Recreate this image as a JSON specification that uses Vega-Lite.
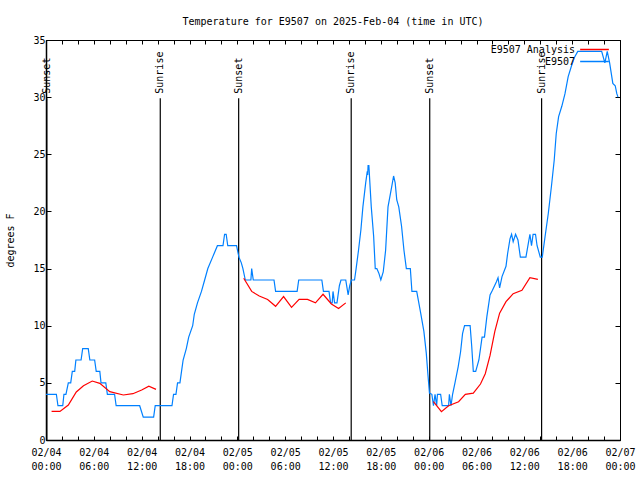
{
  "$schema": "https://vega.github.io/schema/vega-lite/v6.json",
  "width": 574,
  "height": 400,
  "autosize": {"type": "none"},
  "padding": {"left": 46, "top": 40, "right": 20, "bottom": 40},
  "background": "white",
  "title": {"text": "Temperature for E9507 on 2025-Feb-04 (time in UTC)", "font": "DejaVu Sans Mono", "fontSize": 10, "fontWeight": "normal", "anchor": "middle", "offset": 8, "color": "black"},
  "config": {
    "view": {"stroke": "black", "strokeWidth": 1},
    "font": "DejaVu Sans Mono",
    "axis": {"grid": false, "domainColor": "black", "tickColor": "black", "labelColor": "black", "titleColor": "black", "labelFont": "DejaVu Sans Mono", "titleFont": "DejaVu Sans Mono", "labelFontSize": 10, "titleFontSize": 10, "titleFontWeight": "normal"},
    "legend": {"padding": 0}
  },
  "datasets": {
    "sun": [
      {"event": "Sunset", "t": "2025-02-04T00:06:00Z"},
      {"event": "Sunrise", "t": "2025-02-04T14:20:00Z"},
      {"event": "Sunset", "t": "2025-02-05T00:10:00Z"},
      {"event": "Sunrise", "t": "2025-02-05T14:17:00Z"},
      {"event": "Sunset", "t": "2025-02-06T00:08:00Z"},
      {"event": "Sunrise", "t": "2025-02-06T14:10:00Z"}
    ],
    "temps": [
      {"s": "E9507", "g": "b", "t": "2025-02-04T00:00:00Z", "v": 4},
      {"s": "E9507", "g": "b", "t": "2025-02-04T01:18:00Z", "v": 4},
      {"s": "E9507", "g": "b", "t": "2025-02-04T01:30:00Z", "v": 3},
      {"s": "E9507", "g": "b", "t": "2025-02-04T02:06:00Z", "v": 3},
      {"s": "E9507", "g": "b", "t": "2025-02-04T02:15:00Z", "v": 4},
      {"s": "E9507", "g": "b", "t": "2025-02-04T02:30:00Z", "v": 4},
      {"s": "E9507", "g": "b", "t": "2025-02-04T02:48:00Z", "v": 5},
      {"s": "E9507", "g": "b", "t": "2025-02-04T03:06:00Z", "v": 5},
      {"s": "E9507", "g": "b", "t": "2025-02-04T03:18:00Z", "v": 6},
      {"s": "E9507", "g": "b", "t": "2025-02-04T03:36:00Z", "v": 6},
      {"s": "E9507", "g": "b", "t": "2025-02-04T03:45:00Z", "v": 7},
      {"s": "E9507", "g": "b", "t": "2025-02-04T04:24:00Z", "v": 7},
      {"s": "E9507", "g": "b", "t": "2025-02-04T04:36:00Z", "v": 8},
      {"s": "E9507", "g": "b", "t": "2025-02-04T05:18:00Z", "v": 8},
      {"s": "E9507", "g": "b", "t": "2025-02-04T05:30:00Z", "v": 7},
      {"s": "E9507", "g": "b", "t": "2025-02-04T06:06:00Z", "v": 7},
      {"s": "E9507", "g": "b", "t": "2025-02-04T06:18:00Z", "v": 6},
      {"s": "E9507", "g": "b", "t": "2025-02-04T06:45:00Z", "v": 6},
      {"s": "E9507", "g": "b", "t": "2025-02-04T06:54:00Z", "v": 5},
      {"s": "E9507", "g": "b", "t": "2025-02-04T07:30:00Z", "v": 5},
      {"s": "E9507", "g": "b", "t": "2025-02-04T07:42:00Z", "v": 4},
      {"s": "E9507", "g": "b", "t": "2025-02-04T08:36:00Z", "v": 4},
      {"s": "E9507", "g": "b", "t": "2025-02-04T08:48:00Z", "v": 3},
      {"s": "E9507", "g": "b", "t": "2025-02-04T11:45:00Z", "v": 3},
      {"s": "E9507", "g": "b", "t": "2025-02-04T12:12:00Z", "v": 2},
      {"s": "E9507", "g": "b", "t": "2025-02-04T13:30:00Z", "v": 2},
      {"s": "E9507", "g": "b", "t": "2025-02-04T13:42:00Z", "v": 3},
      {"s": "E9507", "g": "b", "t": "2025-02-04T15:48:00Z", "v": 3},
      {"s": "E9507", "g": "b", "t": "2025-02-04T16:00:00Z", "v": 4},
      {"s": "E9507", "g": "b", "t": "2025-02-04T16:18:00Z", "v": 4},
      {"s": "E9507", "g": "b", "t": "2025-02-04T16:30:00Z", "v": 5},
      {"s": "E9507", "g": "b", "t": "2025-02-04T16:48:00Z", "v": 5},
      {"s": "E9507", "g": "b", "t": "2025-02-04T17:00:00Z", "v": 6},
      {"s": "E9507", "g": "b", "t": "2025-02-04T17:12:00Z", "v": 7},
      {"s": "E9507", "g": "b", "t": "2025-02-04T17:36:00Z", "v": 8},
      {"s": "E9507", "g": "b", "t": "2025-02-04T17:54:00Z", "v": 9},
      {"s": "E9507", "g": "b", "t": "2025-02-04T18:24:00Z", "v": 10},
      {"s": "E9507", "g": "b", "t": "2025-02-04T18:36:00Z", "v": 11},
      {"s": "E9507", "g": "b", "t": "2025-02-04T19:00:00Z", "v": 12},
      {"s": "E9507", "g": "b", "t": "2025-02-04T19:30:00Z", "v": 13},
      {"s": "E9507", "g": "b", "t": "2025-02-04T19:54:00Z", "v": 14},
      {"s": "E9507", "g": "b", "t": "2025-02-04T20:18:00Z", "v": 15},
      {"s": "E9507", "g": "b", "t": "2025-02-04T20:54:00Z", "v": 16},
      {"s": "E9507", "g": "b", "t": "2025-02-04T21:30:00Z", "v": 17},
      {"s": "E9507", "g": "b", "t": "2025-02-04T22:12:00Z", "v": 17},
      {"s": "E9507", "g": "b", "t": "2025-02-04T22:24:00Z", "v": 18},
      {"s": "E9507", "g": "b", "t": "2025-02-04T22:36:00Z", "v": 18},
      {"s": "E9507", "g": "b", "t": "2025-02-04T22:48:00Z", "v": 17},
      {"s": "E9507", "g": "b", "t": "2025-02-04T23:54:00Z", "v": 17},
      {"s": "E9507", "g": "b", "t": "2025-02-05T00:12:00Z", "v": 16},
      {"s": "E9507", "g": "b", "t": "2025-02-05T00:30:00Z", "v": 15.5},
      {"s": "E9507", "g": "b", "t": "2025-02-05T00:42:00Z", "v": 15},
      {"s": "E9507", "g": "b", "t": "2025-02-05T01:00:00Z", "v": 14},
      {"s": "E9507", "g": "b", "t": "2025-02-05T01:42:00Z", "v": 14},
      {"s": "E9507", "g": "b", "t": "2025-02-05T01:48:00Z", "v": 15},
      {"s": "E9507", "g": "b", "t": "2025-02-05T02:00:00Z", "v": 14},
      {"s": "E9507", "g": "b", "t": "2025-02-05T04:36:00Z", "v": 14},
      {"s": "E9507", "g": "b", "t": "2025-02-05T04:48:00Z", "v": 13},
      {"s": "E9507", "g": "b", "t": "2025-02-05T07:30:00Z", "v": 13},
      {"s": "E9507", "g": "b", "t": "2025-02-05T07:42:00Z", "v": 14},
      {"s": "E9507", "g": "b", "t": "2025-02-05T10:36:00Z", "v": 14},
      {"s": "E9507", "g": "b", "t": "2025-02-05T10:48:00Z", "v": 13},
      {"s": "E9507", "g": "b", "t": "2025-02-05T11:30:00Z", "v": 13},
      {"s": "E9507", "g": "b", "t": "2025-02-05T11:42:00Z", "v": 12},
      {"s": "E9507", "g": "b", "t": "2025-02-05T11:54:00Z", "v": 12},
      {"s": "E9507", "g": "b", "t": "2025-02-05T12:00:00Z", "v": 13},
      {"s": "E9507", "g": "b", "t": "2025-02-05T12:12:00Z", "v": 12},
      {"s": "E9507", "g": "b", "t": "2025-02-05T12:30:00Z", "v": 12},
      {"s": "E9507", "g": "b", "t": "2025-02-05T12:48:00Z", "v": 13.5},
      {"s": "E9507", "g": "b", "t": "2025-02-05T13:00:00Z", "v": 14},
      {"s": "E9507", "g": "b", "t": "2025-02-05T13:36:00Z", "v": 14},
      {"s": "E9507", "g": "b", "t": "2025-02-05T13:54:00Z", "v": 12.7},
      {"s": "E9507", "g": "b", "t": "2025-02-05T14:06:00Z", "v": 13.5},
      {"s": "E9507", "g": "b", "t": "2025-02-05T14:18:00Z", "v": 14},
      {"s": "E9507", "g": "b", "t": "2025-02-05T14:42:00Z", "v": 14},
      {"s": "E9507", "g": "b", "t": "2025-02-05T14:54:00Z", "v": 15},
      {"s": "E9507", "g": "b", "t": "2025-02-05T15:12:00Z", "v": 16.6},
      {"s": "E9507", "g": "b", "t": "2025-02-05T15:30:00Z", "v": 18.4},
      {"s": "E9507", "g": "b", "t": "2025-02-05T15:45:00Z", "v": 20.4},
      {"s": "E9507", "g": "b", "t": "2025-02-05T16:06:00Z", "v": 22.5},
      {"s": "E9507", "g": "b", "t": "2025-02-05T16:18:00Z", "v": 23.5},
      {"s": "E9507", "g": "b", "t": "2025-02-05T16:21:00Z", "v": 23.2},
      {"s": "E9507", "g": "b", "t": "2025-02-05T16:24:00Z", "v": 24},
      {"s": "E9507", "g": "b", "t": "2025-02-05T16:30:00Z", "v": 24},
      {"s": "E9507", "g": "b", "t": "2025-02-05T16:48:00Z", "v": 20.4},
      {"s": "E9507", "g": "b", "t": "2025-02-05T17:06:00Z", "v": 17.8},
      {"s": "E9507", "g": "b", "t": "2025-02-05T17:18:00Z", "v": 15},
      {"s": "E9507", "g": "b", "t": "2025-02-05T17:30:00Z", "v": 15},
      {"s": "E9507", "g": "b", "t": "2025-02-05T17:45:00Z", "v": 14.6},
      {"s": "E9507", "g": "b", "t": "2025-02-05T18:00:00Z", "v": 14},
      {"s": "E9507", "g": "b", "t": "2025-02-05T18:18:00Z", "v": 14.7},
      {"s": "E9507", "g": "b", "t": "2025-02-05T18:36:00Z", "v": 16.6},
      {"s": "E9507", "g": "b", "t": "2025-02-05T18:54:00Z", "v": 20.4},
      {"s": "E9507", "g": "b", "t": "2025-02-05T19:24:00Z", "v": 22.3},
      {"s": "E9507", "g": "b", "t": "2025-02-05T19:36:00Z", "v": 23.1},
      {"s": "E9507", "g": "b", "t": "2025-02-05T19:48:00Z", "v": 22.5},
      {"s": "E9507", "g": "b", "t": "2025-02-05T20:00:00Z", "v": 21},
      {"s": "E9507", "g": "b", "t": "2025-02-05T20:15:00Z", "v": 20.4},
      {"s": "E9507", "g": "b", "t": "2025-02-05T20:36:00Z", "v": 18.7},
      {"s": "E9507", "g": "b", "t": "2025-02-05T20:54:00Z", "v": 16.6},
      {"s": "E9507", "g": "b", "t": "2025-02-05T21:12:00Z", "v": 15},
      {"s": "E9507", "g": "b", "t": "2025-02-05T21:42:00Z", "v": 15},
      {"s": "E9507", "g": "b", "t": "2025-02-05T21:54:00Z", "v": 13},
      {"s": "E9507", "g": "b", "t": "2025-02-05T22:30:00Z", "v": 13},
      {"s": "E9507", "g": "b", "t": "2025-02-05T23:00:00Z", "v": 11.1},
      {"s": "E9507", "g": "b", "t": "2025-02-05T23:24:00Z", "v": 9.5},
      {"s": "E9507", "g": "b", "t": "2025-02-05T23:42:00Z", "v": 7.6},
      {"s": "E9507", "g": "b", "t": "2025-02-05T23:54:00Z", "v": 5.8},
      {"s": "E9507", "g": "b", "t": "2025-02-06T00:06:00Z", "v": 4.1},
      {"s": "E9507", "g": "b", "t": "2025-02-06T00:24:00Z", "v": 4},
      {"s": "E9507", "g": "b", "t": "2025-02-06T00:36:00Z", "v": 3},
      {"s": "E9507", "g": "b", "t": "2025-02-06T00:48:00Z", "v": 4},
      {"s": "E9507", "g": "b", "t": "2025-02-06T01:00:00Z", "v": 3},
      {"s": "E9507", "g": "b", "t": "2025-02-06T01:06:00Z", "v": 4},
      {"s": "E9507", "g": "b", "t": "2025-02-06T01:30:00Z", "v": 4},
      {"s": "E9507", "g": "b", "t": "2025-02-06T01:42:00Z", "v": 3},
      {"s": "E9507", "g": "b", "t": "2025-02-06T02:30:00Z", "v": 3},
      {"s": "E9507", "g": "b", "t": "2025-02-06T02:36:00Z", "v": 4},
      {"s": "E9507", "g": "b", "t": "2025-02-06T02:48:00Z", "v": 3},
      {"s": "E9507", "g": "b", "t": "2025-02-06T03:00:00Z", "v": 4},
      {"s": "E9507", "g": "b", "t": "2025-02-06T03:18:00Z", "v": 5},
      {"s": "E9507", "g": "b", "t": "2025-02-06T03:42:00Z", "v": 6.4},
      {"s": "E9507", "g": "b", "t": "2025-02-06T04:00:00Z", "v": 7.7},
      {"s": "E9507", "g": "b", "t": "2025-02-06T04:15:00Z", "v": 9.3},
      {"s": "E9507", "g": "b", "t": "2025-02-06T04:30:00Z", "v": 10},
      {"s": "E9507", "g": "b", "t": "2025-02-06T05:12:00Z", "v": 10},
      {"s": "E9507", "g": "b", "t": "2025-02-06T05:24:00Z", "v": 8.2},
      {"s": "E9507", "g": "b", "t": "2025-02-06T05:36:00Z", "v": 6},
      {"s": "E9507", "g": "b", "t": "2025-02-06T05:54:00Z", "v": 6},
      {"s": "E9507", "g": "b", "t": "2025-02-06T06:18:00Z", "v": 7},
      {"s": "E9507", "g": "b", "t": "2025-02-06T06:42:00Z", "v": 9},
      {"s": "E9507", "g": "b", "t": "2025-02-06T07:00:00Z", "v": 9},
      {"s": "E9507", "g": "b", "t": "2025-02-06T07:18:00Z", "v": 10.8},
      {"s": "E9507", "g": "b", "t": "2025-02-06T07:42:00Z", "v": 12.7},
      {"s": "E9507", "g": "b", "t": "2025-02-06T08:00:00Z", "v": 13.1},
      {"s": "E9507", "g": "b", "t": "2025-02-06T08:30:00Z", "v": 13.85},
      {"s": "E9507", "g": "b", "t": "2025-02-06T08:42:00Z", "v": 14.2},
      {"s": "E9507", "g": "b", "t": "2025-02-06T08:54:00Z", "v": 13.3},
      {"s": "E9507", "g": "b", "t": "2025-02-06T09:12:00Z", "v": 14.3},
      {"s": "E9507", "g": "b", "t": "2025-02-06T09:42:00Z", "v": 15.2},
      {"s": "E9507", "g": "b", "t": "2025-02-06T09:54:00Z", "v": 16.3},
      {"s": "E9507", "g": "b", "t": "2025-02-06T10:12:00Z", "v": 17.6},
      {"s": "E9507", "g": "b", "t": "2025-02-06T10:24:00Z", "v": 18},
      {"s": "E9507", "g": "b", "t": "2025-02-06T10:36:00Z", "v": 17.35},
      {"s": "E9507", "g": "b", "t": "2025-02-06T10:54:00Z", "v": 18},
      {"s": "E9507", "g": "b", "t": "2025-02-06T11:12:00Z", "v": 17.5},
      {"s": "E9507", "g": "b", "t": "2025-02-06T11:30:00Z", "v": 16},
      {"s": "E9507", "g": "b", "t": "2025-02-06T12:12:00Z", "v": 16},
      {"s": "E9507", "g": "b", "t": "2025-02-06T12:30:00Z", "v": 17.2},
      {"s": "E9507", "g": "b", "t": "2025-02-06T12:42:00Z", "v": 18},
      {"s": "E9507", "g": "b", "t": "2025-02-06T12:54:00Z", "v": 17},
      {"s": "E9507", "g": "b", "t": "2025-02-06T13:06:00Z", "v": 18},
      {"s": "E9507", "g": "b", "t": "2025-02-06T13:24:00Z", "v": 18},
      {"s": "E9507", "g": "b", "t": "2025-02-06T13:36:00Z", "v": 17},
      {"s": "E9507", "g": "b", "t": "2025-02-06T14:00:00Z", "v": 16},
      {"s": "E9507", "g": "b", "t": "2025-02-06T14:15:00Z", "v": 16},
      {"s": "E9507", "g": "b", "t": "2025-02-06T14:36:00Z", "v": 17.8},
      {"s": "E9507", "g": "b", "t": "2025-02-06T15:00:00Z", "v": 19.8},
      {"s": "E9507", "g": "b", "t": "2025-02-06T15:24:00Z", "v": 22.2},
      {"s": "E9507", "g": "b", "t": "2025-02-06T15:45:00Z", "v": 24.5},
      {"s": "E9507", "g": "b", "t": "2025-02-06T16:00:00Z", "v": 26.8},
      {"s": "E9507", "g": "b", "t": "2025-02-06T16:18:00Z", "v": 28.3},
      {"s": "E9507", "g": "b", "t": "2025-02-06T16:42:00Z", "v": 29.2},
      {"s": "E9507", "g": "b", "t": "2025-02-06T17:06:00Z", "v": 30.3},
      {"s": "E9507", "g": "b", "t": "2025-02-06T17:30:00Z", "v": 31.8},
      {"s": "E9507", "g": "b", "t": "2025-02-06T17:54:00Z", "v": 32.7},
      {"s": "E9507", "g": "b", "t": "2025-02-06T18:18:00Z", "v": 33.5},
      {"s": "E9507", "g": "b", "t": "2025-02-06T18:42:00Z", "v": 34},
      {"s": "E9507", "g": "b", "t": "2025-02-06T21:42:00Z", "v": 34},
      {"s": "E9507", "g": "b", "t": "2025-02-06T22:06:00Z", "v": 33},
      {"s": "E9507", "g": "b", "t": "2025-02-06T22:24:00Z", "v": 34},
      {"s": "E9507", "g": "b", "t": "2025-02-06T22:42:00Z", "v": 33},
      {"s": "E9507", "g": "b", "t": "2025-02-06T22:54:00Z", "v": 32.1},
      {"s": "E9507", "g": "b", "t": "2025-02-06T23:06:00Z", "v": 31.2},
      {"s": "E9507", "g": "b", "t": "2025-02-06T23:24:00Z", "v": 31},
      {"s": "E9507", "g": "b", "t": "2025-02-06T23:36:00Z", "v": 30.3},
      {"s": "E9507", "g": "b", "t": "2025-02-06T23:45:00Z", "v": 30},
      {"s": "E9507 Analysis", "g": "r1", "t": "2025-02-04T00:42:00Z", "v": 2.5},
      {"s": "E9507 Analysis", "g": "r1", "t": "2025-02-04T01:45:00Z", "v": 2.5},
      {"s": "E9507 Analysis", "g": "r1", "t": "2025-02-04T02:48:00Z", "v": 3.06},
      {"s": "E9507 Analysis", "g": "r1", "t": "2025-02-04T03:48:00Z", "v": 4.2},
      {"s": "E9507 Analysis", "g": "r1", "t": "2025-02-04T04:42:00Z", "v": 4.75},
      {"s": "E9507 Analysis", "g": "r1", "t": "2025-02-04T05:48:00Z", "v": 5.16},
      {"s": "E9507 Analysis", "g": "r1", "t": "2025-02-04T06:45:00Z", "v": 4.96},
      {"s": "E9507 Analysis", "g": "r1", "t": "2025-02-04T08:00:00Z", "v": 4.23},
      {"s": "E9507 Analysis", "g": "r1", "t": "2025-02-04T09:42:00Z", "v": 3.94},
      {"s": "E9507 Analysis", "g": "r1", "t": "2025-02-04T10:54:00Z", "v": 4.05},
      {"s": "E9507 Analysis", "g": "r1", "t": "2025-02-04T12:00:00Z", "v": 4.37},
      {"s": "E9507 Analysis", "g": "r1", "t": "2025-02-04T12:54:00Z", "v": 4.7},
      {"s": "E9507 Analysis", "g": "r1", "t": "2025-02-04T13:48:00Z", "v": 4.43},
      {"s": "E9507 Analysis", "g": "r2", "t": "2025-02-05T00:48:00Z", "v": 14.15},
      {"s": "E9507 Analysis", "g": "r2", "t": "2025-02-05T01:48:00Z", "v": 13.0},
      {"s": "E9507 Analysis", "g": "r2", "t": "2025-02-05T02:45:00Z", "v": 12.6},
      {"s": "E9507 Analysis", "g": "r2", "t": "2025-02-05T03:48:00Z", "v": 12.3},
      {"s": "E9507 Analysis", "g": "r2", "t": "2025-02-05T04:48:00Z", "v": 11.7},
      {"s": "E9507 Analysis", "g": "r2", "t": "2025-02-05T05:48:00Z", "v": 12.55},
      {"s": "E9507 Analysis", "g": "r2", "t": "2025-02-05T06:48:00Z", "v": 11.6},
      {"s": "E9507 Analysis", "g": "r2", "t": "2025-02-05T07:45:00Z", "v": 12.3},
      {"s": "E9507 Analysis", "g": "r2", "t": "2025-02-05T08:48:00Z", "v": 12.3},
      {"s": "E9507 Analysis", "g": "r2", "t": "2025-02-05T09:48:00Z", "v": 12.0},
      {"s": "E9507 Analysis", "g": "r2", "t": "2025-02-05T10:45:00Z", "v": 12.75},
      {"s": "E9507 Analysis", "g": "r2", "t": "2025-02-05T11:48:00Z", "v": 11.9},
      {"s": "E9507 Analysis", "g": "r2", "t": "2025-02-05T12:42:00Z", "v": 11.5},
      {"s": "E9507 Analysis", "g": "r2", "t": "2025-02-05T13:36:00Z", "v": 12.0},
      {"s": "E9507 Analysis", "g": "r3", "t": "2025-02-06T00:36:00Z", "v": 3.35},
      {"s": "E9507 Analysis", "g": "r3", "t": "2025-02-06T01:36:00Z", "v": 2.48},
      {"s": "E9507 Analysis", "g": "r3", "t": "2025-02-06T02:30:00Z", "v": 3.0},
      {"s": "E9507 Analysis", "g": "r3", "t": "2025-02-06T03:45:00Z", "v": 3.35},
      {"s": "E9507 Analysis", "g": "r3", "t": "2025-02-06T04:36:00Z", "v": 4.0},
      {"s": "E9507 Analysis", "g": "r3", "t": "2025-02-06T05:36:00Z", "v": 4.1},
      {"s": "E9507 Analysis", "g": "r3", "t": "2025-02-06T06:30:00Z", "v": 4.9},
      {"s": "E9507 Analysis", "g": "r3", "t": "2025-02-06T07:06:00Z", "v": 5.8},
      {"s": "E9507 Analysis", "g": "r3", "t": "2025-02-06T07:42:00Z", "v": 7.4},
      {"s": "E9507 Analysis", "g": "r3", "t": "2025-02-06T08:18:00Z", "v": 9.5},
      {"s": "E9507 Analysis", "g": "r3", "t": "2025-02-06T08:54:00Z", "v": 11.1},
      {"s": "E9507 Analysis", "g": "r3", "t": "2025-02-06T09:42:00Z", "v": 12.1},
      {"s": "E9507 Analysis", "g": "r3", "t": "2025-02-06T10:36:00Z", "v": 12.8},
      {"s": "E9507 Analysis", "g": "r3", "t": "2025-02-06T11:42:00Z", "v": 13.1},
      {"s": "E9507 Analysis", "g": "r3", "t": "2025-02-06T12:42:00Z", "v": 14.2},
      {"s": "E9507 Analysis", "g": "r3", "t": "2025-02-06T13:42:00Z", "v": 14.06}
    ]
  },
  "layer": [
    {
      "data": {"name": "sun"},
      "mark": {"type": "rule", "color": "black", "strokeWidth": 1.2},
      "encoding": {
        "x": {"field": "t", "type": "temporal", "scale": {"type": "utc", "domain": [1738627200000, 1738886400000], "nice": false},
          "axis": {"orient": "top", "values": [1738627200000, 1738634400000, 1738641600000, 1738648800000, 1738656000000, 1738663200000, 1738670400000, 1738677600000, 1738684800000, 1738692000000, 1738699200000, 1738706400000, 1738713600000, 1738720800000, 1738728000000, 1738735200000, 1738742400000, 1738749600000, 1738756800000, 1738764000000, 1738771200000, 1738778400000, 1738785600000, 1738792800000, 1738800000000, 1738807200000, 1738814400000, 1738821600000, 1738828800000, 1738836000000, 1738843200000, 1738850400000, 1738857600000, 1738864800000, 1738872000000, 1738879200000, 1738886400000], "tickSize": -4, "labels": false, "title": null}},
        "y": {"datum": 29.9, "type": "quantitative", "scale": {"domain": [0, 35], "nice": false},
          "axis": {"orient": "right", "values": [0, 5, 10, 15, 20, 25, 30, 35], "tickSize": -5, "labels": false, "title": null}},
        "y2": {"datum": 0}
      }
    },
    {
      "data": {"name": "sun"},
      "mark": {"type": "text", "angle": 270, "align": "left", "baseline": "middle", "font": "DejaVu Sans Mono", "fontSize": 10, "color": "black"},
      "encoding": {
        "x": {"field": "t", "type": "temporal", "axis": null},
        "y": {"datum": 30.3, "type": "quantitative", "axis": null},
        "text": {"field": "event"}
      }
    },
    {
      "data": {"name": "temps"},
      "mark": {"type": "line", "strokeWidth": 1.2, "interpolate": "linear"},
      "encoding": {
        "x": {"field": "t", "type": "temporal",
          "axis": {"orient": "bottom", "values": [1738627200000, 1738634400000, 1738641600000, 1738648800000, 1738656000000, 1738663200000, 1738670400000, 1738677600000, 1738684800000, 1738692000000, 1738699200000, 1738706400000, 1738713600000, 1738720800000, 1738728000000, 1738735200000, 1738742400000, 1738749600000, 1738756800000, 1738764000000, 1738771200000, 1738778400000, 1738785600000, 1738792800000, 1738800000000, 1738807200000, 1738814400000, 1738821600000, 1738828800000, 1738836000000, 1738843200000, 1738850400000, 1738857600000, 1738864800000, 1738872000000, 1738879200000, 1738886400000], "tickSize": -4, "labelExpr": "(datum.value - 1738627200000) % 21600000 == 0 ? [utcFormat(datum.value, '%m/%d'), utcFormat(datum.value, '%H:%M')] : ''", "labelFlush": false, "labelOverlap": false, "labelPadding": 11, "labelLineHeight": 14, "labelBaseline": "top", "title": null, "domainWidth": 1.5}},
        "y": {"field": "v", "type": "quantitative",
          "axis": {"orient": "left", "values": [0, 5, 10, 15, 20, 25, 30, 35], "tickSize": -5, "labelPadding": 6, "title": "degrees F", "titlePadding": 17, "domainWidth": 1.5}},
        "color": {"field": "s", "type": "nominal",
          "scale": {"domain": ["E9507 Analysis", "E9507"], "range": ["#ff0000", "#0080ff"]},
          "legend": {"orient": "none", "legendX": 542, "legendY": 3, "title": null, "symbolType": "M-2.5,0H2.5", "symbolSize": 132, "symbolStrokeWidth": 1.5, "labelAlign": "right", "labelOffset": -26, "labelFont": "DejaVu Sans Mono", "labelFontSize": 10, "labelColor": "black", "rowPadding": 0}},
        "detail": {"field": "g"}
      }
    }
  ],
  "resolve": {"axis": {"x": "independent", "y": "independent"}}
}
